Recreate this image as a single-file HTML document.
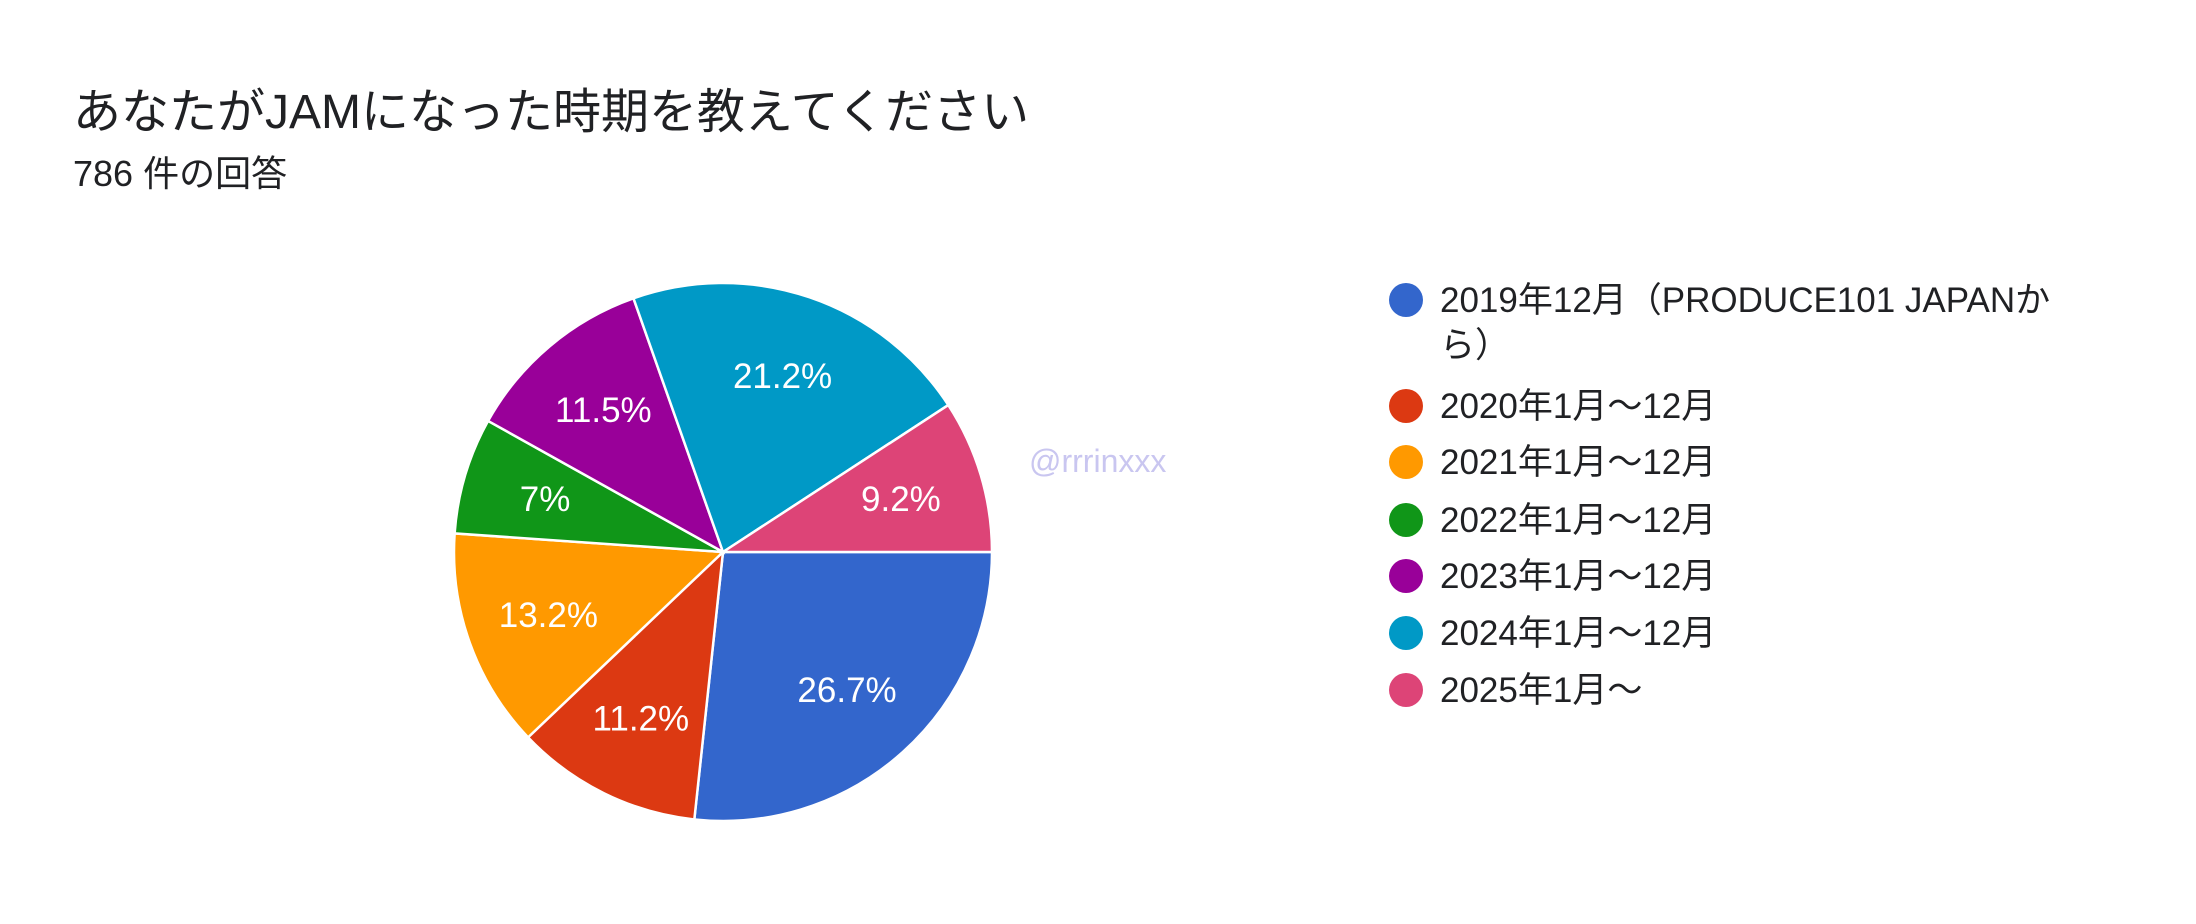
<!DOCTYPE html>
<html><head><meta charset="utf-8">
<style>
html,body{margin:0;padding:0;background:#fff;}
body{width:2196px;height:924px;position:relative;overflow:hidden;font-family:"Liberation Sans","Noto Sans CJK JP",sans-serif;color:#202124;}
#title{position:absolute;left:73px;top:72px;font-size:48px;white-space:nowrap;}
#sub{position:absolute;left:73px;top:145px;font-size:36px;white-space:nowrap;}
svg{position:absolute;left:0;top:0;}
</style></head><body>
<div id="title">あなたがJAMになった時期を教えてください</div>
<div id="sub">786 件の回答</div>
<svg id="chart" width="2196" height="924"></svg>
<script>
const categories=["2019年12月（PRODUCE101 JAPANから）","2020年1月〜12月","2021年1月〜12月","2022年1月〜12月","2023年1月〜12月","2024年1月〜12月","2025年1月〜"];
const values=[26.7,11.2,13.2,7,11.5,21.2,9.2];
const labels=["26.7%","11.2%","13.2%","7%","11.5%","21.2%","9.2%"];
const colors=["#3366cc","#dc3912","#ff9900","#109618","#990099","#0099c6","#dd4477"];
const NS="http://www.w3.org/2000/svg";
const svg=document.getElementById('chart');
const cx=723,cy=552,r=269,startDeg=90;
const total=values.reduce((a,b)=>a+b,0);
function pt(deg,rad){const a=deg*Math.PI/180;return [cx+rad*Math.sin(a),cy-rad*Math.cos(a)];}
let acc=startDeg;
values.forEach((v,i)=>{
  const sweep=v/total*360,a0=acc,a1=acc+sweep;acc=a1;
  const p0=pt(a0,r),p1=pt(a1,r);
  const path=document.createElementNS(NS,'path');
  path.setAttribute('d',`M${cx},${cy} L${p0[0]},${p0[1]} A${r},${r} 0 ${sweep>180?1:0} 1 ${p1[0]},${p1[1]} Z`);
  path.setAttribute('fill',colors[i]);path.setAttribute('stroke','#fff');path.setAttribute('stroke-width','2.5');
  
  
  svg.appendChild(path);
  const lp=pt((a0+a1)/2,r*0.69);
  const t=document.createElementNS(NS,'text');
  t.setAttribute('x',lp[0]);t.setAttribute('y',lp[1]+12);t.setAttribute('text-anchor','middle');
  t.setAttribute('fill','#fff');t.setAttribute('font-size','35');
  t.textContent=labels[i];
  
  
  svg.appendChild(t);
});
const wm=document.createElementNS(NS,'text');
wm.setAttribute('x',1029);wm.setAttribute('y',472);wm.setAttribute('fill','#c9c6f0');wm.setAttribute('font-size','32');
wm.textContent='@rrrinxxx';


svg.appendChild(wm);
const rowsY=[300,406,462,520,576,633,690];
categories.forEach((c,i)=>{
  const g=document.createElementNS(NS,'g');
  
  
  const ci=document.createElementNS(NS,'circle');
  ci.setAttribute('cx',1406);ci.setAttribute('cy',rowsY[i]);ci.setAttribute('r',17);ci.setAttribute('fill',colors[i]);
  g.appendChild(ci);
  const lines=i===0?["2019年12月（PRODUCE101 JAPANか","ら）"]:[c];
  lines.forEach((ln,k)=>{
    const t=document.createElementNS(NS,'text');
    t.setAttribute('x',1440);t.setAttribute('y',rowsY[i]+12+k*45);t.setAttribute('font-size','35');t.setAttribute('fill','#202124');
    t.textContent=ln;g.appendChild(t);
  });
  svg.appendChild(g);
});
</script>
</body></html>
